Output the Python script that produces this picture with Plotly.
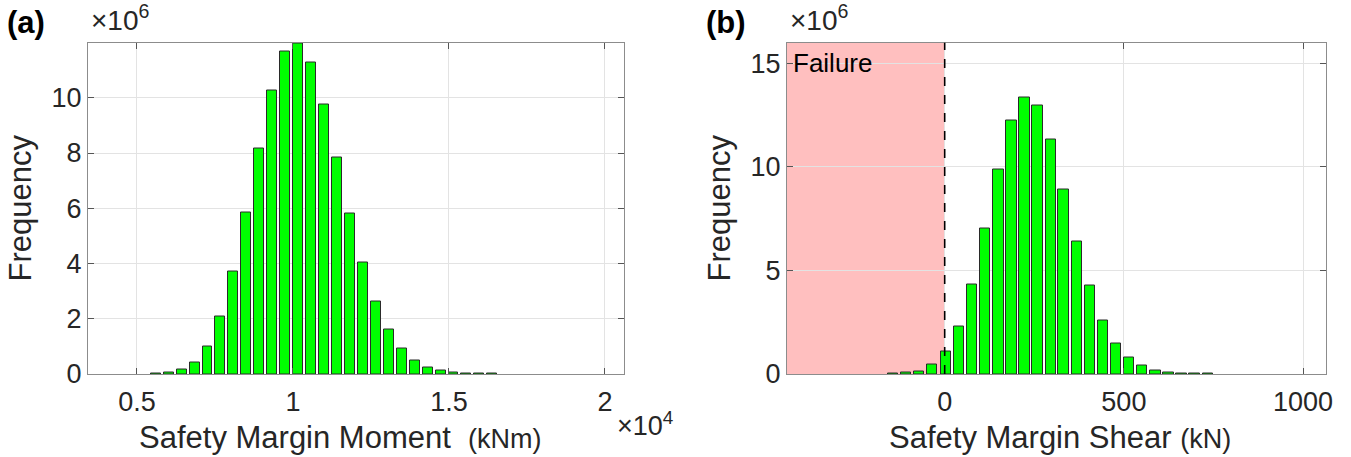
import plotly.graph_objects as go

# ---------- data ----------
moment_bin_centers = [5600, 6015, 6430, 6845, 7260, 7675, 8090, 8505, 8920, 9335,
                      9750, 10165, 10580, 10995, 11410, 11825, 12240, 12655, 13070,
                      13485, 13900, 14315, 14730, 15145, 15560, 15975, 16390]
moment_freq = [0.02, 0.05, 0.15, 0.42, 1.00, 2.07, 3.70, 5.83, 8.18, 10.27,
               11.66, 11.98, 11.29, 9.77, 7.82, 5.81, 4.03, 2.61, 1.60, 0.91,
               0.48, 0.24, 0.12, 0.05, 0.02, 0.01, 0.005]

shear_bin_centers = [-145, -108, -72, -35, 4, 40, 77, 113, 150, 186, 223, 259,
                     296, 332, 369, 405, 442, 478, 515, 551, 588, 624, 661, 697, 734]
shear_freq = [0.02, 0.05, 0.13, 0.44, 1.07, 2.30, 4.30, 7.00, 9.89, 12.23,
              13.35, 12.96, 11.30, 8.92, 6.41, 4.26, 2.60, 1.48, 0.78, 0.40,
              0.18, 0.08, 0.03, 0.01, 0.005]

moment_tickvals = [5000, 10000, 15000, 20000]
moment_ticktext = ["0.5", "1", "1.5", "2"]
shear_tickvals = [0, 500, 1000]
left_yticks = [0, 2, 4, 6, 8, 10]
right_yticks = [0, 5, 10, 15]

FONT = "Liberation Sans, Arial, Helvetica, sans-serif"
TXT = "#262626"
BAR = "#00ff00"
EDGE = "#2a2a2a"
AXLINE = "#8c8c8c"
GRID = "#e3e3e3"

fig = go.Figure()
fig.add_trace(go.Bar(x=moment_bin_centers, y=moment_freq, width=318,
                     marker=dict(color=BAR, line=dict(color=EDGE, width=1)),
                     xaxis="x", yaxis="y", showlegend=False))
fig.add_trace(go.Bar(x=shear_bin_centers, y=shear_freq, width=29,
                     marker=dict(color=BAR, line=dict(color=EDGE, width=1)),
                     xaxis="x2", yaxis="y2", showlegend=False))

W, H = 1351, 457
ytop, ybot = 42.5, 374
l1, r1 = 88, 624
l2, r2 = 787, 1326

common_axis = dict(showline=True, linecolor=AXLINE, linewidth=1, mirror="ticks",
                   ticks="inside", ticklen=6, tickcolor="#555555", automargin=False,
                   showgrid=True, gridcolor=GRID, gridwidth=1, zeroline=False,
                   tickfont=dict(family=FONT, size=27, color=TXT))

fig.update_layout(
    template="none",
    width=W, height=H,
    margin=dict(l=0, r=0, t=0, b=0, autoexpand=False),
    paper_bgcolor="white", plot_bgcolor="white",
    font=dict(family=FONT, color=TXT),
    bargap=0,
    xaxis=dict(domain=[l1 / W, r1 / W], range=[3430, 20610],
               tickvals=moment_tickvals, ticktext=moment_ticktext, anchor="y",
               ticklabelstandoff=4, **common_axis),
    yaxis=dict(domain=[1 - ybot / H, 1 - ytop / H], range=[0, 12], anchor="x",
               tickvals=left_yticks,
               title=dict(text="Frequency", font=dict(family=FONT, size=31, color=TXT), standoff=10),
               **common_axis),
    xaxis2=dict(domain=[l2 / W, r2 / W], range=[-440, 1064], anchor="y2",
                tickvals=shear_tickvals, ticklabelstandoff=4, **common_axis),
    yaxis2=dict(domain=[1 - ybot / H, 1 - ytop / H], range=[0, 16], anchor="x2",
                tickvals=right_yticks,
                title=dict(text="Frequency", font=dict(family=FONT, size=31, color=TXT), standoff=10),
                **common_axis),
)

# x-axis titles (placed like the reference)
fig.add_annotation(xref="paper", yref="paper", x=340 / W, y=1 - 437 / H,
                   text='Safety Margin Moment  <span style="font-size:27px">(kNm)</span>',
                   showarrow=False, xanchor="center", yanchor="middle",
                   font=dict(family=FONT, size=31, color=TXT))
fig.add_annotation(xref="paper", yref="paper", x=1060 / W, y=1 - 437 / H,
                   text='Safety Margin Shear <span style="font-size:27px">(kN)</span>',
                   showarrow=False, xanchor="center", yanchor="middle",
                   font=dict(family=FONT, size=31, color=TXT))

# failure region and limit line
fig.add_shape(type="rect", xref="x2", yref="y2", x0=-440, x1=0, y0=0, y1=16,
              fillcolor="#ffbfbf", line=dict(width=0), layer="below")
fig.add_shape(type="line", xref="x2", yref="y2", x0=0, x1=0, y0=0, y1=16,
              line=dict(color="black", width=1.6, dash="dash"), layer="above")
fig.add_annotation(xref="x2", yref="y2", x=-430, y=15, text="Failure", showarrow=False,
                   xanchor="left", yanchor="middle",
                   font=dict(family=FONT, size=26, color="black"))

# panel labels and exponent labels
for xpx, lab in [(5, "(a)"), (704, "(b)")]:
    fig.add_annotation(xref="paper", yref="paper", x=xpx / W, y=1 - 22 / H, text=f"<b>{lab}</b>",
                       showarrow=False, xanchor="left", yanchor="middle",
                       font=dict(family=FONT, size=31, color="black"))
for xpx in (89, 788):
    fig.add_annotation(xref="paper", yref="paper", x=xpx / W, y=1 - 18 / H,
                       text="×10<sup>6</sup>", showarrow=False, xanchor="left", yanchor="middle",
                       font=dict(family=FONT, size=28, color=TXT))
fig.add_annotation(xref="paper", yref="paper", x=615 / W, y=1 - 424 / H,
                   text="×10<sup>4</sup>", showarrow=False, xanchor="left", yanchor="middle",
                   font=dict(family=FONT, size=27, color=TXT))

fig.write_html("out.html")
